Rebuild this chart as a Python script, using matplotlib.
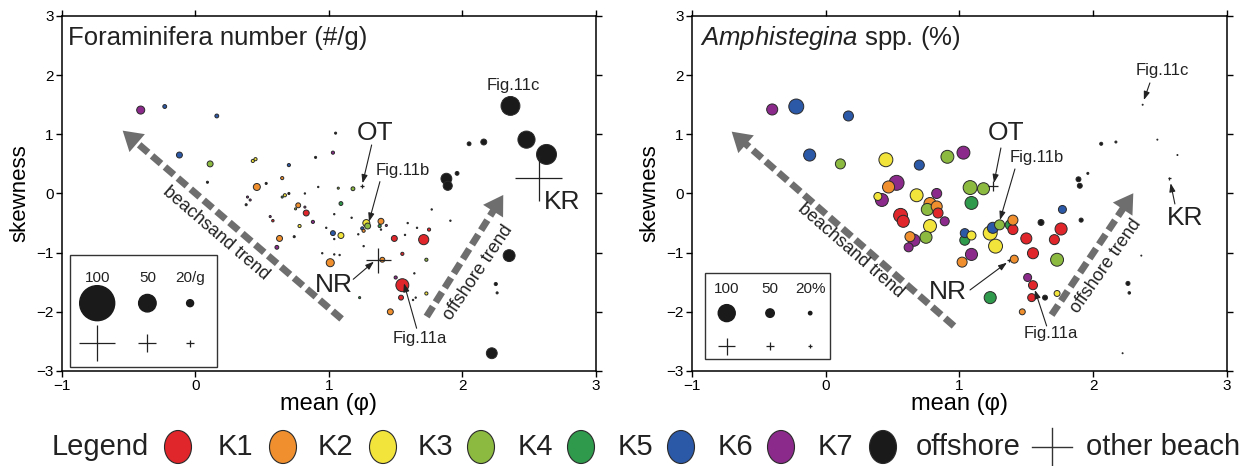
import matplotlib.pyplot as plt
from matplotlib.patches import Ellipse, Rectangle

plt.rcParams['font.family'] = ['Liberation Sans', 'DejaVu Sans']
plt.rcParams['mathtext.fontset'] = 'custom'
plt.rcParams['mathtext.it'] = 'Liberation Sans:italic'
plt.rcParams['mathtext.rm'] = 'Liberation Sans'

colors = {'K1': '#e0262b', 'K2': '#ef8f2e', 'K3': '#f2e43a', 'K4': '#8cba40',
          'K5': '#2f9a4c', 'K6': '#2c58a8', 'K7': '#8b2a8a', 'off': '#1a1a1a'}
legend_groups = ['K1', 'K2', 'K3', 'K4', 'K5', 'K6', 'K7', 'off']
legend_names = ['K1', 'K2', 'K3', 'K4', 'K5', 'K6', 'K7', 'offshore']

# left panel: foraminifera number (#/g)
fora_mean = [-0.41, -0.23, 0.16, -0.12, 0.11, 0.09, 0.43, 0.45, 0.46, 0.53, 0.65, 0.70,
             0.90, 1.03, 1.05, 0.39, 0.41, 0.38, 0.65, 0.67, 0.70, 0.77, 0.75, 0.82,
             0.83, 0.82, 0.92, 1.07, 1.18, 1.09, 1.04, 1.17, 0.56, 0.58, 0.78, 0.88,
             0.98, 1.03, 1.09, 1.04, 0.74, 0.63, 0.61, 0.95, 1.28, 1.29, 1.25, 1.26,
             1.22, 1.38, 1.39, 1.43, 1.39, 1.49, 1.57, 1.66, 1.75, 1.59, 1.71, 1.77,
             1.91, 1.26, 1.04, 1.08, 1.01, 1.40, 1.55, 1.73, 1.64, 1.50, 1.55, 1.54,
             1.65, 1.63, 1.73, 1.23, 1.46, 2.35, 2.25, 2.26, 2.22, 2.05, 2.16, 1.88,
             1.89, 1.96, 2.48, 2.63, 2.36]
fora_skew = [1.41, 1.47, 1.31, 0.65, 0.50, 0.19, 0.55, 0.58, 0.11, 0.17, 0.26, 0.48,
             0.61, 0.69, 1.02, -0.06, -0.11, -0.19, -0.06, -0.03, 0.00, -0.20, -0.26, -0.23,
             -0.33, 0.00, 0.11, 0.09, 0.08, -0.17, -0.35, -0.41, -0.39, -0.46, -0.55, -0.48,
             -0.58, -0.67, -0.71, -0.77, -0.73, -0.76, -0.91, -1.01, -0.50, -0.55, -0.59, -0.63,
             -0.69, -0.55, -0.47, -0.54, -0.61, -0.76, -0.70, -0.58, -0.61, -0.50, -0.78, -0.27,
             -0.46, -0.89, -1.03, -1.04, -1.17, -1.12, -1.02, -1.12, -1.35, -1.42, -1.55, -1.76,
             -1.76, -1.80, -1.69, -1.76, -2.00, -1.05, -1.53, -1.68, -2.70, 0.84, 0.87, 0.25,
             0.13, 0.34, 0.91, 0.66, 1.48]
fora_num = [23, 11, 11, 17, 17, 6, 9, 9, 20, 6, 9, 9,
            6, 9, 6, 6, 6, 6, 6, 9, 6, 14, 6, 6,
            17, 4, 4, 6, 11, 11, 4, 4, 6, 7, 9, 9,
            4, 14, 17, 4, 6, 17, 11, 4, 20, 17, 9, 9,
            4, 9, 17, 6, 4, 17, 4, 4, 9, 4, 29, 4,
            4, 4, 4, 4, 23, 14, 9, 9, 4, 9, 37, 14,
            4, 4, 9, 6, 17, 34, 9, 6, 31, 11, 17, 31,
            26, 11, 49, 57, 54]
fora_group = ['K7', 'K6', 'K6', 'K6', 'K4', 'off', 'K3', 'K3', 'K2', 'off', 'K2', 'K6',
              'off', 'K7', 'off', 'K7', 'K7', 'off', 'K5', 'K3', 'off', 'K2', 'K4', 'K7',
              'K1', 'off', 'off', 'K4', 'K4', 'K5', 'off', 'off', 'K7', 'K1', 'K3', 'K7',
              'off', 'K6', 'K3', 'off', 'off', 'K2', 'K7', 'off', 'K3', 'K4', 'K6', 'K2',
              'off', 'K5', 'K2', 'K7', 'off', 'K1', 'off', 'off', 'K1', 'off', 'K1', 'off',
              'off', 'off', 'off', 'off', 'K2', 'K2', 'K1', 'K4', 'off', 'K7', 'K1', 'K1',
              'off', 'off', 'K3', 'K5', 'K2', 'off', 'off', 'off', 'off', 'off', 'off', 'off',
              'off', 'off', 'off', 'off', 'off']

# right panel: Amphistegina spp. (%)
amph_mean = [-0.40, -0.22, 0.17, -0.12, 0.11, 0.45, 0.70, 0.91, 1.03, 0.47, 0.53, 0.39,
             0.42, 0.68, 0.83, 0.78, 0.83, 0.76, 0.84, 0.56, 0.58, 0.89, 0.78, 0.75,
             0.63, 0.66, 0.62, 1.08, 1.18, 1.09, 1.04, 1.09, 1.04, 1.09, 1.02, 1.23,
             1.27, 1.25, 1.30, 1.38, 1.40, 1.40, 1.50, 1.55, 1.41, 1.61, 1.77, 1.76,
             1.71, 1.73, 1.51, 1.55, 1.54, 1.64, 1.73, 1.47, 1.23, 1.89, 1.90, 1.96,
             1.91, 2.06, 2.17, 2.26, 2.27, 2.22, 2.36, 2.48, 2.63, 2.37]
amph_skew = [1.42, 1.47, 1.31, 0.65, 0.50, 0.57, 0.48, 0.62, 0.69, 0.11, 0.18, -0.05,
             -0.11, -0.03, 0.00, -0.17, -0.22, -0.27, -0.33, -0.37, -0.47, -0.47, -0.55, -0.74,
             -0.73, -0.79, -0.91, 0.10, 0.08, -0.16, -0.67, -0.71, -0.79, -1.03, -1.16, -0.67,
             -0.89, -0.58, -0.53, -0.53, -0.61, -0.45, -0.76, -1.01, -1.11, -0.49, -0.27, -0.60,
             -0.78, -1.12, -1.42, -1.55, -1.76, -1.76, -1.69, -2.00, -1.76, 0.24, 0.13, 0.34,
             -0.45, 0.84, 0.87, -1.52, -1.68, -2.70, -1.05, 0.91, 0.65, 1.50]
amph_pct = [65, 88, 59, 71, 59, 82, 59, 76, 76, 71, 88, 47,
            76, 76, 59, 71, 65, 71, 59, 82, 71, 53, 76, 71,
            59, 71, 53, 82, 71, 76, 53, 53, 59, 71, 59, 82,
            82, 65, 59, 59, 59, 59, 65, 65, 47, 35, 47, 71,
            59, 76, 47, 53, 47, 29, 35, 35, 71, 29, 29, 12,
            24, 18, 12, 24, 15, 6, 6, 6, 6, 6]
amph_group = ['K7', 'K6', 'K6', 'K6', 'K4', 'K3', 'K6', 'K4', 'K7', 'K2', 'K7', 'K3',
              'K7', 'K3', 'K7', 'K2', 'K2', 'K4', 'K1', 'K1', 'K1', 'K7', 'K3', 'K4',
              'K2', 'K7', 'K7', 'K4', 'K4', 'K5', 'K6', 'K3', 'K5', 'K7', 'K2', 'K3',
              'K3', 'K6', 'K4', 'K5', 'K1', 'K2', 'K1', 'K1', 'K2', 'off', 'K6', 'K1',
              'K1', 'K4', 'K7', 'K1', 'K1', 'off', 'K3', 'K2', 'K5', 'off', 'off', 'off',
              'off', 'off', 'off', 'off', 'off', 'off', 'off', 'off', 'off', 'off']

# other beaches: OT, NR, KR
beach_names = ['OT', 'NR', 'KR']
beach_mean = [1.25, 1.37, 2.57]
beach_skew = [0.13, -1.13, 0.26]
beach_num = [11, 70, 130]
beach_pct = [59, 18, 18]

scale_vals = [100, 50, 20]


def circ_fora(v):
    return (0.35 * v * 0.72) ** 2


def cross_fora(v):
    return (0.36 * v * 0.72) ** 2


def circ_amph(v):
    return (0.17 * v * 0.72) ** 2


def cross_amph(v):
    return (0.17 * v * 0.72) ** 2


fig = plt.figure(figsize=(12.54, 4.66), dpi=100)
ax1 = fig.add_axes([0.0494, 0.2039, 0.4258, 0.7618])
ax2 = fig.add_axes([0.5518, 0.2039, 0.4266, 0.7618])

gray = '#6e6e6e'


def draw_panel(ax, xs, ys, vals, groups, circ, cross, bvals):
    order = sorted(range(len(xs)), key=lambda i: -vals[i])
    ax.scatter([xs[i] for i in order], [ys[i] for i in order],
               s=[circ(vals[i]) for i in order],
               c=[colors[groups[i]] for i in order],
               edgecolors='#2a2a2a', linewidths=0.7, zorder=3)
    ax.scatter(beach_mean, beach_skew, s=[cross(v) for v in bvals], marker='+',
               c='#222222', linewidths=0.9, zorder=4)
    ax.set_xlim(-1, 3)
    ax.set_ylim(-3, 3)
    ax.set_xticks([-1, 0, 1, 2, 3])
    ax.set_yticks([-3, -2, -1, 0, 1, 2, 3])
    ax.set_xticklabels(['\u22121', '0', '1', '2', '3'])
    ax.set_yticklabels(['\u22123', '\u22122', '\u22121', '0', '1', '2', '3'])
    ax.tick_params(direction='out', length=4, width=1, labelsize=11,
                   top=True, right=True, pad=2)
    for sp in ax.spines.values():
        sp.set_linewidth(1.1)
    ax.set_xlabel('mean (\u03c6)', fontsize=17, labelpad=0)
    ax.set_ylabel('skewness', fontsize=16, labelpad=4)


def trend(ax, tail, tip, text, tpos, rot):
    f = 0.06
    end = (tip[0] + (tail[0] - tip[0]) * f, tip[1] + (tail[1] - tip[1]) * f)
    ax.plot([tail[0], end[0]], [tail[1], end[1]], color=gray, lw=5,
            dashes=(1.7, 0.75), solid_capstyle='butt', dash_capstyle='butt', zorder=2)
    back = (tip[0] + (tail[0] - tip[0]) * 0.1, tip[1] + (tail[1] - tip[1]) * 0.1)
    ax.annotate('', xy=tip, xytext=back,
                arrowprops=dict(arrowstyle='-|>,head_length=0.55,head_width=0.34',
                                mutation_scale=25, color=gray, lw=0,
                                shrinkA=0, shrinkB=0), zorder=2)
    ax.text(tpos[0], tpos[1], text, rotation=rot, rotation_mode='anchor',
            ha='center', va='center', fontsize=13, color='#222222')


def note(ax, text, pos, start, end, size=12):
    ax.text(pos[0], pos[1], text, ha='center', va='center', fontsize=size, color='#222222')
    if start is not None:
        ax.annotate('', xy=end, xytext=start,
                    arrowprops=dict(arrowstyle='-|>,head_length=0.5,head_width=0.18',
                                    mutation_scale=10, color='#222222', lw=0.8,
                                    shrinkA=0, shrinkB=0))


def scale_box(ax, box, xs, ylab, ycirc, ycross, labels, circ, cross):
    ax.add_patch(Rectangle((box[0], box[1]), box[2], box[3], transform=ax.transAxes,
                           fill=False, ec='#333333', lw=1, zorder=5))
    for x, v, lab in zip(xs, scale_vals, labels):
        ax.text(x, ylab, lab, transform=ax.transAxes, ha='center', va='center',
                fontsize=11, color='#222222')
    ax.scatter(xs, [ycirc] * 3, s=[circ(v) for v in scale_vals], c='#1a1a1a',
               transform=ax.transAxes, zorder=6)
    ax.scatter(xs, [ycross] * 3, s=[cross(v) for v in scale_vals], marker='+',
               c='#222222', linewidths=0.9, transform=ax.transAxes, zorder=6)


# left panel
draw_panel(ax1, fora_mean, fora_skew, fora_num, fora_group, circ_fora, cross_fora, beach_num)
ax1.text(0.011, 0.938, 'Foraminifera number (#/g)', transform=ax1.transAxes,
         ha='left', va='center', fontsize=18.5, color='#222222')
trend(ax1, (1.095, -2.12), (-0.545, 1.062), 'beachsand trend', (0.15, -0.67), -40.6)
trend(ax1, (1.732, -2.08), (2.306, -0.025), 'offshore trend', (2.12, -1.34), 56)
note(ax1, 'Fig.11c', (2.38, 1.82), None, None)
note(ax1, 'OT', (1.345, 1.02), (1.32, 0.82), (1.252, 0.173), size=19)
note(ax1, 'Fig.11b', (1.554, 0.38), (1.382, 0.20), (1.30, -0.476))
note(ax1, 'KR', (2.75, -0.15), None, None, size=19)
note(ax1, 'NR', (1.037, -1.546), (1.182, -1.45), (1.337, -1.152), size=19)
note(ax1, 'Fig.11a', (1.682, -2.459), (1.657, -2.278), (1.562, -1.518))
scale_box(ax1, (0.015, 0.012, 0.275, 0.315), [0.066, 0.160, 0.240], 0.263, 0.191, 0.078,
          ['100', '50', '20/g'], circ_fora, cross_fora)

# right panel
draw_panel(ax2, amph_mean, amph_skew, amph_pct, amph_group, circ_amph, cross_amph, beach_pct)
ax2.text(0.015, 0.938, r'$\mathit{Amphistegina}$ spp. (%)', transform=ax2.transAxes,
         ha='left', va='center', fontsize=18.5, color='#222222')
trend(ax2, (0.959, -2.24), (-0.703, 1.045), 'beachsand trend', (0.19, -0.97), -41)
trend(ax2, (1.689, -2.053), (2.30, 0.004), 'offshore trend', (2.095, -1.225), 55)
note(ax2, 'Fig.11c', (2.514, 2.087), (2.424, 1.868), (2.379, 1.58))
note(ax2, 'OT', (1.348, 1.023), (1.31, 0.769), (1.258, 0.178), size=19)
note(ax2, 'Fig.11b', (1.579, 0.60), (1.415, 0.414), (1.303, -0.448))
note(ax2, 'NR', (0.914, -1.665), (1.079, -1.631), (1.355, -1.169), size=19)
note(ax2, 'Fig.11a', (1.684, -2.374), (1.652, -2.239), (1.564, -1.631))
note(ax2, 'KR', (2.686, -0.414), (2.611, -0.177), (2.579, 0.173), size=19)
scale_box(ax2, (0.0243, 0.033, 0.234, 0.242), [0.065, 0.146, 0.221], 0.230, 0.163, 0.070,
          ['100', '50', '20%'], circ_amph, cross_amph)

# bottom legend (pixel coordinates)
axl = fig.add_axes([0, 0, 1, 56 / 466])
axl.set_xlim(0, 1254)
axl.set_ylim(466, 410)
axl.axis('off')
yc = 447
axl.text(52, yc, 'Legend', ha='left', va='center', fontsize=21, color='#222222')
circ_x = [178, 283, 383, 481, 581, 681, 781, 883]
text_x = [218, 318, 418, 518, 618, 718, 818, 916]
for cx, tx, g, name in zip(circ_x, text_x, legend_groups, legend_names):
    axl.add_patch(Ellipse((cx, yc), 27, 33, fc=colors[g], ec='#2a2a2a', lw=0.8))
    axl.text(tx, yc, name, ha='left', va='center', fontsize=21, color='#222222')
axl.plot([1032, 1072], [yc, yc], color='#333333', lw=1)
axl.plot([1052, 1052], [428, 466], color='#333333', lw=1)
axl.text(1086, yc, 'other beach', ha='left', va='center', fontsize=21, color='#222222')

fig.savefig('out.png', dpi=100)
